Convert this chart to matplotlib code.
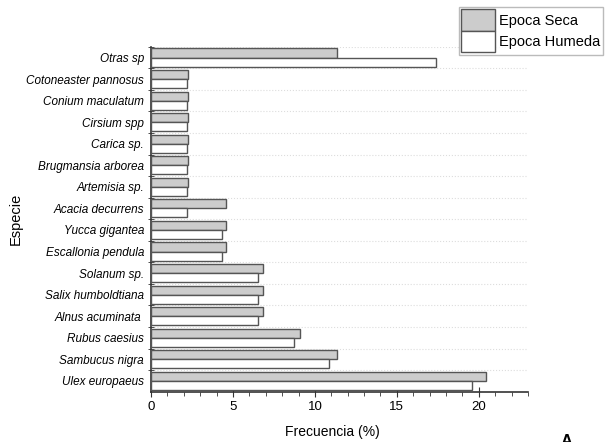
import numpy as np
import matplotlib
matplotlib.use("Agg")
import matplotlib.pyplot as plt
from matplotlib.ticker import MultipleLocator

# especies, de abajo hacia arriba
especies = ["Ulex europaeus", "Sambucus nigra", "Rubus caesius", "Alnus acuminata ",
            "Salix humboldtiana", "Solanum sp.", "Escallonia pendula", "Yucca gigantea",
            "Acacia decurrens", "Artemisia sp.", "Brugmansia arborea", "Carica sp.",
            "Cirsium spp", "Conium maculatum", "Cotoneaster pannosus", "Otras sp"]
epoca_seca = [20.45, 11.36, 9.09, 6.82, 6.82, 6.82, 4.55, 4.55,
              4.55, 2.27, 2.27, 2.27, 2.27, 2.27, 2.27, 11.36]
epoca_humeda = [19.57, 10.87, 8.70, 6.52, 6.52, 6.52, 4.35, 4.35,
                2.17, 2.17, 2.17, 2.17, 2.17, 2.17, 2.17, 17.39]

plt.rcParams['font.family'] = ['Liberation Sans', 'DejaVu Sans']

fig = plt.figure(figsize=(6.05, 4.42), dpi=100)
ax = fig.add_axes([0.2496, 0.1138, 0.6231, 0.7805])

y = np.arange(len(especies))
h = 0.42
ax.barh(y + h / 2, epoca_seca, height=h, color='#cccccc', edgecolor='#555555',
        linewidth=1, label='Epoca Seca', zorder=3)
ax.barh(y - h / 2, epoca_humeda, height=h, color='white', edgecolor='#555555',
        linewidth=1, label='Epoca Humeda', zorder=3)

ax.set_xlim(0, 23)
ax.set_ylim(-0.5, len(especies) - 0.5)

ax.set_yticks(y)
ax.set_yticklabels(especies, fontstyle='italic', fontsize=8.5)
ax.set_yticks(np.arange(len(especies)) + 0.5, minor=True)
ax.tick_params(axis='y', which='major', length=0, pad=5)
ax.tick_params(axis='y', which='minor', direction='inout', length=5, color='#333333')
ax.grid(which='minor', axis='y', linestyle=':', color='#dddddd', linewidth=0.8)

ax.xaxis.set_major_locator(MultipleLocator(5))
ax.xaxis.set_minor_locator(MultipleLocator(1))
ax.tick_params(axis='x', which='major', direction='inout', length=7, labelsize=9.5,
               color='#333333', pad=3)
ax.tick_params(axis='x', which='minor', direction='out', length=3, color='#333333')

for s in ['top', 'right']:
    ax.spines[s].set_visible(False)
for s in ['left', 'bottom']:
    ax.spines[s].set_color('#333333')
    ax.spines[s].set_linewidth(1.2)

ax.set_xlabel('Frecuencia (%)', fontsize=10)
ax.xaxis.set_label_coords(0.48, -0.097)
ax.set_ylabel('Especie', fontsize=10.5)
ax.yaxis.set_label_coords(-0.34, 0.5)

fig.legend(loc='upper left', bbox_to_anchor=(459 / 605, 1 - 7 / 442),
           fontsize=10.5, frameon=True, fancybox=False, edgecolor='#aaaaaa',
           handlelength=2.3, handleheight=1.9, labelspacing=0.0,
           handletextpad=0.3, borderpad=0.15, borderaxespad=0)

fig.text(567 / 605, 0.018, 'A', fontsize=12, fontweight='bold', ha='center', va='top')

fig.savefig('out.png', dpi=100)
